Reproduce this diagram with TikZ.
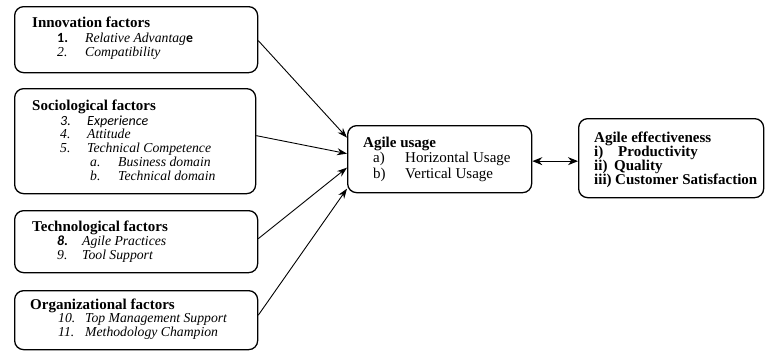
\documentclass[tikz,border=0pt]{standalone}
\usepackage{fontspec}
\setmainfont{Liberation Serif}
\newfontfamily\calfont{Carlito}
\usetikzlibrary{arrows.meta}
\tikzset{
  box/.style={draw, line width=1.3pt, rounded corners=9pt, inner sep=0pt, anchor=north west},
  hd/.style={anchor=base west, inner sep=0pt, font=\fontsize{15}{15}\selectfont\bfseries},
  it/.style={anchor=base west, inner sep=0pt, font=\fontsize{13.7}{14}\selectfont\itshape},
  cal/.style={anchor=base west, inner sep=0pt, font=\fontsize{14}{14}\selectfont\calfont},
  rg/.style={anchor=base west, inner sep=0pt, font=\fontsize{15}{15}\selectfont},
  bd/.style={anchor=base west, inner sep=0pt, font=\fontsize{15}{15}\selectfont\bfseries},
  conn/.style={line width=0.9pt, -{Stealth[length=10pt,width=7pt]}},
  dconn/.style={line width=1.1pt, {Stealth[length=10pt,width=8pt]}-{Stealth[length=10pt,width=8pt]}},
}
\begin{document}
\begin{tikzpicture}[x=1pt,y=-1pt]
\useasboundingbox (0,0) rectangle (765,351);
% boxes
\node[box, minimum width=243pt, minimum height=66pt] (inn) at (14,6) {};
\node[box, minimum width=241pt, minimum height=105pt] (soc) at (14,88) {};
\node[box, minimum width=243pt, minimum height=62pt] (tec) at (14,210) {};
\node[box, minimum width=243pt, minimum height=59pt] (org) at (14,290) {};
\node[box, minimum width=184pt, minimum height=67pt] (use) at (347,125) {};
\node[box, minimum width=185pt, minimum height=79pt] (eff) at (578,118) {};
% innovation
\node[hd] (innh) at (32,27) {Innovation factors};
\node[cal] (inn1n) at (57,42.5) {\bfseries 1.};
\node[it] (inn1) at (85,42.5) {Relative Advantag{\calfont\upshape\bfseries e}};
\node[it] (inn2n) at (57,56.5) {2.};
\node[it] (inn2) at (85,56.5) {Compatibility};
% sociological
\node[hd] (soch) at (32,110.5) {Sociological factors};
\node[cal] (soc3n) at (60,125) {\itshape 3.};
\node[cal] (soc3) at (87,125) {\itshape Experience};
\node[it] (soc4n) at (60,138.5) {4.};
\node[it] (soc4) at (87,138.5) {Attitude};
\node[it] (soc5n) at (60,152) {5.};
\node[it] (soc5) at (87,152) {Technical Competence};
\node[it] (socan) at (90,166) {a.};
\node[it] (soca) at (118,166) {Business domain};
\node[it] (socbn) at (90,180) {b.};
\node[it] (socb) at (118,180) {Technical domain};
% technological
\node[hd] (tech) at (32,231) {Technological factors};
\node[cal] (tec8n) at (57,245) {\bfseries\itshape 8.};
\node[it] (tec8) at (82,245) {Agile Practices};
\node[it] (tec9n) at (57,259) {9.};
\node[it] (tec9) at (82,259) {Tool Support};
% organizational
\node[hd] (orgh) at (30,309) {Organizational factors};
\node[it] (org10n) at (58,322.5) {10.};
\node[it] (org10) at (85,322.5) {Top Management Support};
\node[it] (org11n) at (58,336) {11.};
\node[it] (org11) at (85,336) {Methodology Champion};
% agile usage
\node[hd] (useh) at (363,147) {Agile usage};
\node[rg] (usean) at (373,162.5) {a)};
\node[rg] (usea) at (405,162.5) {Horizontal Usage};
\node[rg] (usebn) at (373,178) {b)};
\node[rg] (useb) at (405,178) {Vertical Usage};
% agile effectiveness
\node[hd] (effh) at (594,142) {Agile effectiveness};
\node[bd] (eff1n) at (594,156) {i)};
\node[bd] (eff1) at (618,156) {Productivity};
\node[bd] (eff2n) at (594,170) {ii)};
\node[bd] (eff2) at (614,170) {Quality};
\node[bd] (eff3n) at (594,184) {iii)};
\node[bd] (eff3) at (615,184) {Customer Satisfaction};
% connectors
\draw[conn] ([yshift=-1pt]inn.east) -- ([yshift=21.5pt]use.west);
\draw[conn] ([yshift=5.5pt]soc.east) -- ([yshift=5.5pt]use.west);
\draw[conn] ([yshift=3pt]tec.east) -- ([yshift=-8.5pt]use.west);
\draw[conn] ([yshift=5pt]org.east) -- ([yshift=-29.5pt]use.west);
\draw[dconn] ([yshift=-2pt]use.east) -- ([yshift=-2pt]use.east -| eff.west);
\end{tikzpicture}
\end{document}
